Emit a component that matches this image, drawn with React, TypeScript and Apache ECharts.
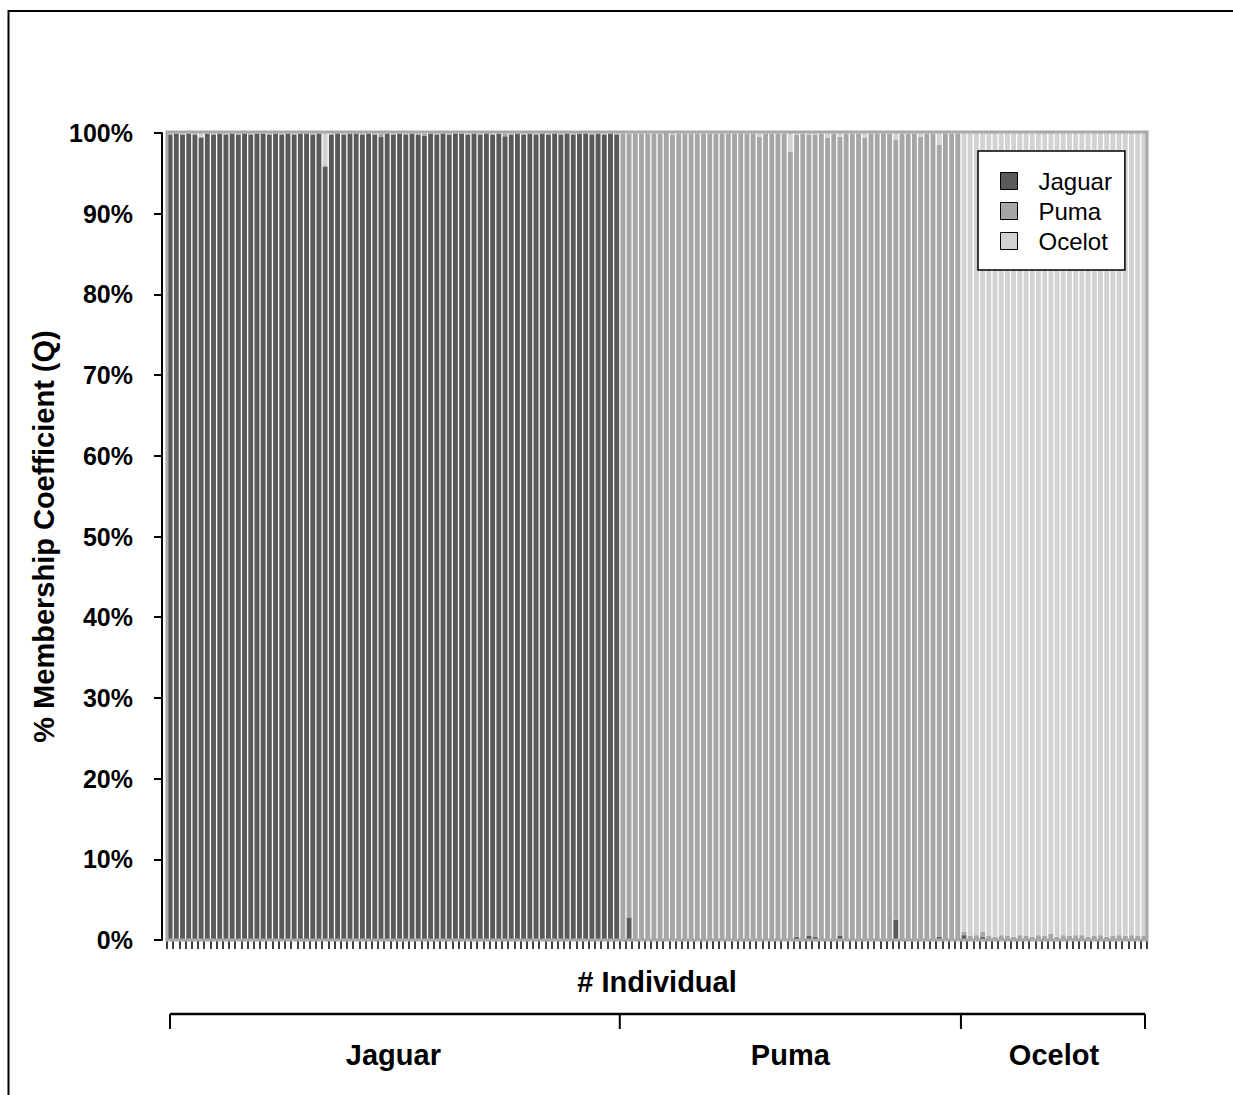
import React, { useEffect, useRef } from "react";
import * as echarts from "echarts";

// Sampled populations (in plotting order) and how many individuals each holds
const populations = ["Jaguar", "Puma", "Ocelot"];
const populationSizes = [73, 55, 30];

// Inferred genetic clusters, stacked bottom to top
const clusterNames = ["Jaguar", "Puma", "Ocelot"];
const clusterColors = ["#5a5a5a", "#a6a6a6", "#d2d2d2"];

// Membership coefficient (Q) of every individual in each cluster
const qJaguar = [
  // Jaguar individuals
  0.998, 0.999, 0.998, 0.999, 0.998, 0.994, 0.999, 0.998, 0.999, 0.998,
  0.999, 0.998, 0.999, 0.998, 0.999, 0.999, 0.998, 0.999, 0.998, 0.999,
  0.998, 0.999, 0.999, 0.998, 0.999, 0.958, 0.998, 0.999, 0.998, 0.999,
  0.999, 0.998, 0.999, 0.998, 0.995, 0.999, 0.998, 0.999, 0.998, 0.999,
  0.998, 0.997, 0.999, 0.998, 0.999, 0.998, 0.999, 0.999, 0.998, 0.999,
  0.998, 0.999, 0.998, 0.999, 0.996, 0.998, 0.999, 0.998, 0.999, 0.998,
  0.999, 0.998, 0.999, 0.998, 0.999, 0.998, 0.999, 0.999, 0.998, 0.999,
  0.998, 0.999, 0.998,
  // Puma individuals
  0.001, 0.028, 0.001, 0.000, 0.001, 0.000, 0.001, 0.001, 0.000, 0.001,
  0.001, 0.000, 0.001, 0.001, 0.000, 0.001, 0.001, 0.000, 0.001, 0.001,
  0.000, 0.001, 0.001, 0.001, 0.000, 0.001, 0.001, 0.002, 0.004, 0.001,
  0.005, 0.004, 0.001, 0.001, 0.001, 0.005, 0.000, 0.001, 0.001, 0.001,
  0.000, 0.001, 0.001, 0.001, 0.025, 0.001, 0.001, 0.000, 0.001, 0.001,
  0.001, 0.004, 0.001, 0.000, 0.001,
  // Ocelot individuals
  0.006, 0.001, 0.001, 0.004, 0.001, 0.000, 0.001, 0.001, 0.000, 0.001,
  0.001, 0.000, 0.001, 0.001, 0.001, 0.000, 0.001, 0.001, 0.002, 0.001,
  0.000, 0.001, 0.001, 0.000, 0.001, 0.001, 0.001, 0.002, 0.001, 0.000,
];

const qPuma = [
  // Jaguar individuals
  0.001, 0.001, 0.001, 0.001, 0.001, 0.001, 0.001, 0.001, 0.001, 0.001,
  0.001, 0.001, 0.001, 0.001, 0.001, 0.001, 0.001, 0.001, 0.001, 0.001,
  0.001, 0.001, 0.001, 0.001, 0.001, 0.002, 0.001, 0.001, 0.001, 0.001,
  0.001, 0.001, 0.001, 0.001, 0.004, 0.001, 0.001, 0.001, 0.001, 0.001,
  0.001, 0.002, 0.001, 0.001, 0.001, 0.001, 0.001, 0.001, 0.001, 0.001,
  0.001, 0.001, 0.001, 0.001, 0.003, 0.001, 0.001, 0.001, 0.001, 0.001,
  0.001, 0.001, 0.001, 0.001, 0.001, 0.001, 0.001, 0.001, 0.001, 0.001,
  0.001, 0.001, 0.001,
  // Puma individuals
  0.998, 0.971, 0.998, 0.999, 0.998, 0.999, 0.998, 0.999, 0.998, 0.998,
  0.998, 0.999, 0.998, 0.998, 0.999, 0.998, 0.998, 0.999, 0.998, 0.998,
  0.999, 0.998, 0.994, 0.998, 0.999, 0.998, 0.998, 0.975, 0.994, 0.998,
  0.993, 0.994, 0.998, 0.993, 0.998, 0.990, 0.999, 0.998, 0.998, 0.993,
  0.999, 0.998, 0.998, 0.998, 0.967, 0.998, 0.998, 0.999, 0.994, 0.998,
  0.998, 0.981, 0.998, 0.999, 0.998,
  // Ocelot individuals
  0.004, 0.004, 0.005, 0.006, 0.004, 0.004, 0.005, 0.004, 0.004, 0.005,
  0.004, 0.004, 0.005, 0.004, 0.007, 0.004, 0.005, 0.004, 0.004, 0.005,
  0.004, 0.004, 0.005, 0.004, 0.004, 0.005, 0.004, 0.004, 0.004, 0.005,
];

const qOcelot = [
  // Jaguar individuals
  0.001, 0.000, 0.001, 0.000, 0.001, 0.005, 0.000, 0.001, 0.000, 0.001,
  0.000, 0.001, 0.000, 0.001, 0.000, 0.000, 0.001, 0.000, 0.001, 0.000,
  0.001, 0.000, 0.000, 0.001, 0.000, 0.040, 0.001, 0.000, 0.001, 0.000,
  0.000, 0.001, 0.000, 0.001, 0.001, 0.000, 0.001, 0.000, 0.001, 0.000,
  0.001, 0.001, 0.000, 0.001, 0.000, 0.001, 0.000, 0.000, 0.001, 0.000,
  0.001, 0.000, 0.001, 0.000, 0.001, 0.001, 0.000, 0.001, 0.000, 0.001,
  0.000, 0.001, 0.000, 0.001, 0.000, 0.001, 0.000, 0.000, 0.001, 0.000,
  0.001, 0.000, 0.001,
  // Puma individuals
  0.001, 0.001, 0.001, 0.001, 0.001, 0.001, 0.001, 0.000, 0.002, 0.001,
  0.001, 0.001, 0.001, 0.001, 0.001, 0.001, 0.001, 0.001, 0.001, 0.001,
  0.001, 0.001, 0.005, 0.001, 0.001, 0.001, 0.001, 0.023, 0.002, 0.001,
  0.002, 0.002, 0.001, 0.006, 0.001, 0.005, 0.001, 0.001, 0.001, 0.006,
  0.001, 0.001, 0.001, 0.001, 0.008, 0.001, 0.001, 0.001, 0.005, 0.001,
  0.001, 0.015, 0.001, 0.001, 0.001,
  // Ocelot individuals
  0.990, 0.995, 0.994, 0.990, 0.995, 0.996, 0.994, 0.995, 0.996, 0.994,
  0.995, 0.996, 0.994, 0.995, 0.992, 0.996, 0.994, 0.995, 0.994, 0.994,
  0.996, 0.995, 0.994, 0.996, 0.995, 0.994, 0.995, 0.994, 0.995, 0.995,
];

const clusterValues = [qJaguar, qPuma, qOcelot];

const FONT = '"Liberation Sans", Arial, Helvetica, sans-serif';
const W = 1233;
const H = 1095;
const GRID = { left: 167, right: 86, top: 133, bottom: 155 };

export default function App() {
  const ref = useRef<HTMLDivElement>(null);

  useEffect(() => {
    if (!ref.current) return;
    const chart = echarts.init(ref.current, null, { renderer: "svg" });

    const individuals = qJaguar.map((_, i) => String(i + 1));

    chart.setOption({
      animation: false,
      backgroundColor: "#ffffff",
      textStyle: { fontFamily: FONT },
      grid: { ...GRID, containLabel: false },
      legend: {
        orient: "vertical",
        left: 978,
        top: 151,
        padding: [18, 13, 17, 22],
        itemWidth: 17,
        itemHeight: 17,
        itemGap: 6,
        icon: "rect",
        backgroundColor: "#ffffff",
        borderColor: "#000000",
        borderWidth: 1.5,
        borderRadius: 0,
        itemStyle: { borderColor: "#000000", borderWidth: 1 },
        textStyle: { fontSize: 24, color: "#000000", fontFamily: FONT, padding: [0, 0, 0, 16] },
        data: clusterNames,
      },
      xAxis: {
        type: "category",
        data: individuals,
        offset: 3,
        boundaryGap: true,
        name: "# Individual",
        nameLocation: "middle",
        nameGap: 24,
        nameTextStyle: {
          fontSize: 29,
          fontWeight: "bold",
          color: "#000000",
          fontFamily: FONT,
          verticalAlign: "top",
        },
        axisLine: { show: true, lineStyle: { color: "#000000", width: 2 } },
        axisTick: { show: true, interval: 0, length: 9, lineStyle: { color: "#000000", width: 1.5 } },
        axisLabel: { show: false },
        splitLine: { show: false },
      },
      yAxis: {
        type: "value",
        min: 0,
        max: 1,
        interval: 0.1,
        offset: 5,
        name: "% Membership Coefficient (Q)",
        nameLocation: "middle",
        nameGap: 104,
        nameTextStyle: {
          fontSize: 29,
          fontWeight: "bold",
          color: "#000000",
          fontFamily: FONT,
        },
        axisLine: { show: true, lineStyle: { color: "#000000", width: 2 } },
        axisTick: { show: true, length: 8, lineStyle: { color: "#000000", width: 2 } },
        axisLabel: {
          margin: 29,
          fontSize: 25,
          fontWeight: "bold",
          color: "#000000",
          fontFamily: FONT,
          formatter: (v: number) => `${Math.round(v * 100)}%`,
        },
        splitLine: { show: false },
      },
      series: clusterNames.map((name, k) => ({
        name,
        type: "bar",
        stack: "Q",
        barCategoryGap: "21%",
        data: clusterValues[k],
        itemStyle: { color: clusterColors[k], borderWidth: 0 },
        emphasis: { disabled: true },
      })),
    });

    // Population brackets under the axis, placed from the category scale
    const c0 = chart.convertToPixel({ xAxisIndex: 0 }, 0) as number;
    const c1 = chart.convertToPixel({ xAxisIndex: 0 }, 1) as number;
    const band = c1 - c0;
    const edge = (k: number) => c0 - band / 2 + k * band;

    const bounds: number[] = [0];
    populationSizes.forEach((n, i) => bounds.push(bounds[i] + n));
    const bx = bounds.map((b) => edge(b));
    bx[0] += 3;
    bx[bx.length - 1] -= 2;

    const lineY = 1014;
    const graphics: any[] = [
      // chart frame
      { type: "line", shape: { x1: 8.5, y1: 10, x2: 8.5, y2: H }, style: { stroke: "#000", lineWidth: 2 } },
      { type: "line", shape: { x1: 8, y1: 11, x2: W, y2: 11 }, style: { stroke: "#000", lineWidth: 2 } },
      // plot-area border
      {
        type: "rect",
        z: 100,
        shape: { x: GRID.left, y: GRID.top - 1, width: W - GRID.left - GRID.right, height: H - GRID.top - GRID.bottom + 1 },
        style: { fill: "none", stroke: "#a8a8a8", lineWidth: 3 },
      },
      // bracket
      { type: "line", shape: { x1: bx[0], y1: lineY, x2: bx[bx.length - 1], y2: lineY }, style: { stroke: "#000", lineWidth: 2.5 } },
    ];
    bx.forEach((x) => {
      graphics.push({
        type: "line",
        shape: { x1: x, y1: lineY, x2: x, y2: lineY + 15 },
        style: { stroke: "#000", lineWidth: 2 },
      });
    });
    populations.forEach((p, i) => {
      graphics.push({
        type: "text",
        x: (edge(bounds[i]) + edge(bounds[i + 1])) / 2,
        y: 1055,
        style: {
          text: p,
          fill: "#000",
          font: `bold 29px ${FONT}`,
          align: "center",
          verticalAlign: "middle",
        },
      });
    });

    chart.setOption({ graphic: graphics });

    return () => chart.dispose();
  }, []);

  return (
    <div
      ref={ref}
      style={{ position: "absolute", left: 0, top: 0, width: W, height: H }}
    />
  );
}
